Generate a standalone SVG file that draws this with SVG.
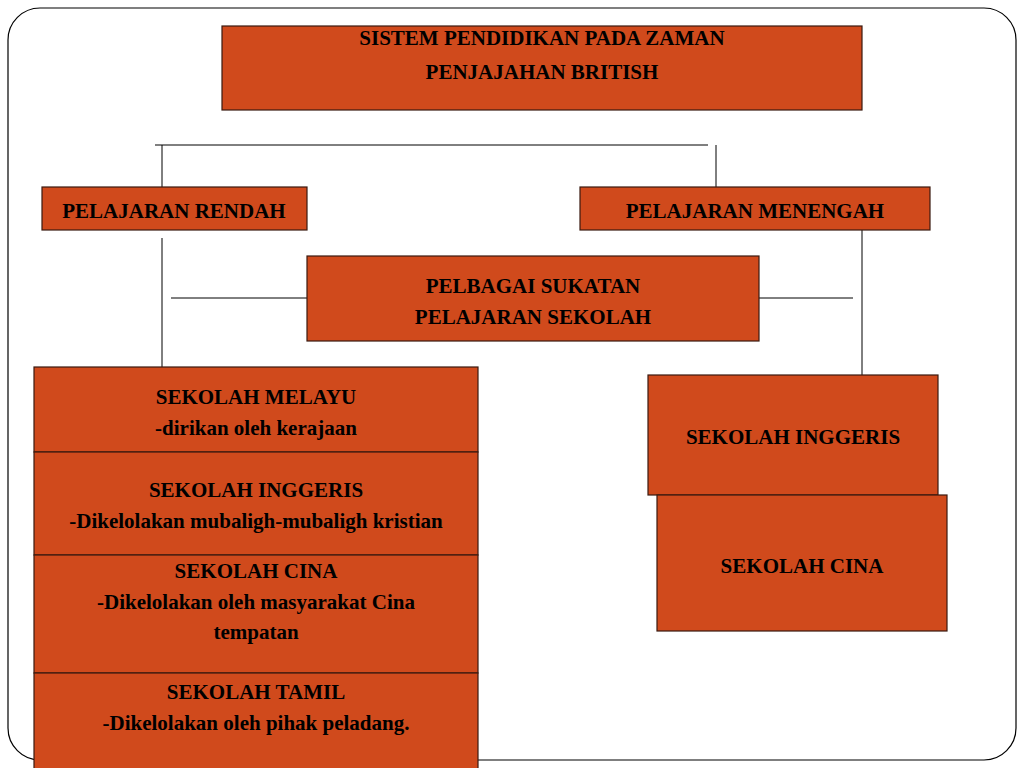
<svg xmlns="http://www.w3.org/2000/svg" width="1024" height="768" viewBox="0 0 1024 768">
<style>
.b{fill:#D04A1C;stroke:#3a1a10;stroke-width:1.2}
.t{font-family:"Liberation Serif",serif;font-weight:bold;font-size:21px;fill:#000;text-anchor:middle}
.l{stroke:#000;stroke-width:1;fill:none}
</style>
<rect x="0" y="0" width="1024" height="768" fill="#fff"/>
<rect x="8" y="8" width="1008" height="752" rx="32" fill="none" stroke="#000" stroke-width="1.2"/>
<g id="connectors">
<path class="l" d="M155 145H708M162 145V187M716 145V187M162 238V367M862 230V375M171 298H307M759 298H853"/>
</g>
<g id="title"><rect class="b" x="222" y="26" width="640" height="84"/>
<text class="t" x="542" y="45">SISTEM PENDIDIKAN PADA ZAMAN</text><text class="t" x="542" y="79">PENJAJAHAN BRITISH</text></g>
<g id="rendah"><rect class="b" x="42" y="187" width="265" height="43"/><text class="t" x="174" y="218">PELAJARAN RENDAH</text></g>
<g id="menengah"><rect class="b" x="580" y="187" width="350" height="43"/><text class="t" x="755" y="218">PELAJARAN MENENGAH</text></g>
<g id="sukatan"><rect class="b" x="307" y="256" width="452" height="85"/><text class="t" x="533" y="293">PELBAGAI SUKATAN</text><text class="t" x="533" y="324">PELAJARAN SEKOLAH</text></g>
<g id="melayu"><rect class="b" x="34" y="367" width="444" height="85"/><text class="t" x="256" y="404">SEKOLAH MELAYU</text><text class="t" x="256" y="435">-dirikan oleh kerajaan</text></g>
<g id="inggeris1"><rect class="b" x="34" y="452" width="444" height="103"/><text class="t" x="256" y="497">SEKOLAH INGGERIS</text><text class="t" x="256" y="528">-Dikelolakan mubaligh-mubaligh kristian</text></g>
<g id="cina1"><rect class="b" x="34" y="555" width="444" height="118"/><text class="t" x="256" y="578">SEKOLAH CINA</text><text class="t" x="256" y="609">-Dikelolakan oleh masyarakat Cina</text><text class="t" x="256" y="639">tempatan</text></g>
<g id="tamil"><rect class="b" x="34" y="673" width="444" height="100"/><text class="t" x="256" y="699">SEKOLAH TAMIL</text><text class="t" x="256" y="730">-Dikelolakan oleh pihak peladang.</text></g>
<g id="inggeris2"><rect class="b" x="648" y="375" width="290" height="120"/><text class="t" x="793" y="444">SEKOLAH INGGERIS</text></g>
<g id="cina2"><rect class="b" x="657" y="495" width="290" height="136"/><text class="t" x="802" y="573">SEKOLAH CINA</text></g>
</svg>
